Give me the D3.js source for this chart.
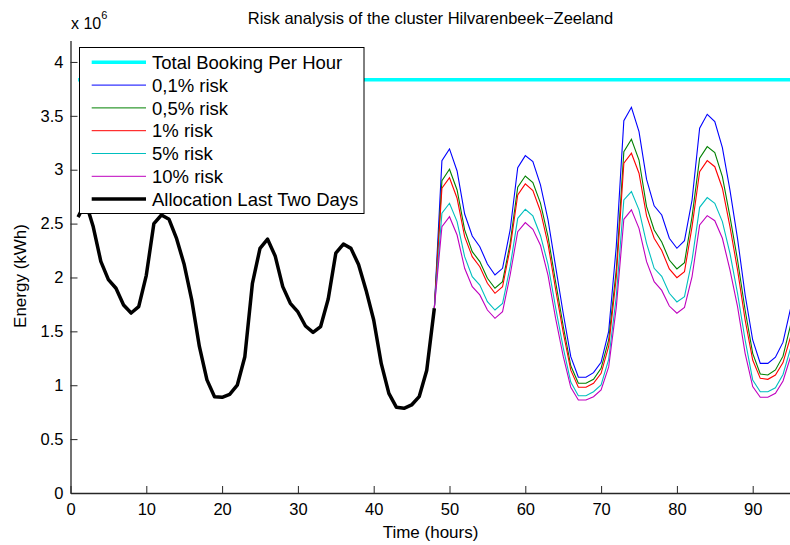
<!DOCTYPE html>
<html>
<head>
<meta charset="utf-8">
<script src="https://cdn.jsdelivr.net/npm/d3@7"></script>
<style>
  body { margin: 0; background: #fff; }
  svg { display: block; font-family: "Liberation Sans", Arial, sans-serif; }
  .axis path, .axis line { stroke: #262626; }
  .axis text { font-size: 16.5px; fill: #000; font-family: "Liberation Sans", Arial, sans-serif; }
</style>
</head>
<body>
<div id="chart"></div>
<script>
// values in units of 10^6 kWh
const bookingLevel = 3.836;

// hours 1..48
const allocation = [2.56, 2.70, 2.47, 2.15, 1.98, 1.90, 1.745, 1.67, 1.73, 2.02, 2.50, 2.58,
  2.54, 2.36, 2.12, 1.79, 1.36, 1.05, 0.894, 0.888, 0.916, 1.00, 1.265, 1.946,
  2.27, 2.355, 2.20, 1.915, 1.76, 1.68, 1.55, 1.49, 1.545, 1.80, 2.225, 2.31,
  2.27, 2.12, 1.88, 1.605, 1.20, 0.925, 0.795, 0.786, 0.817, 0.894, 1.14, 1.714];

// hours 48..95
const risk01 = [1.714, 3.084, 3.193, 2.988, 2.589, 2.385, 2.286, 2.125, 2.023, 2.085, 2.441, 3.019,
  3.131, 3.075, 2.86, 2.534, 2.10, 1.668, 1.265, 1.074, 1.074, 1.117, 1.213, 1.50,
  2.286, 3.455, 3.579, 3.353, 2.91, 2.665, 2.58, 2.364, 2.271, 2.342, 2.719, 3.385,
  3.514, 3.446, 3.205, 2.81, 2.36, 1.84, 1.42, 1.203, 1.203, 1.26, 1.40, 1.714];
const risk05 = [1.714, 2.899, 3.004, 2.812, 2.441, 2.24, 2.147, 1.992, 1.90, 1.961, 2.317, 2.837,
  2.942, 2.88, 2.69, 2.38, 1.96, 1.55, 1.18, 1.018, 1.018, 1.055, 1.157, 1.42,
  2.07, 3.168, 3.282, 3.09, 2.657, 2.441, 2.33, 2.162, 2.079, 2.138, 2.565, 3.106,
  3.214, 3.159, 2.936, 2.565, 2.162, 1.698, 1.296, 1.104, 1.095, 1.142, 1.27, 1.56];
const risk1 = [1.714, 2.828, 2.926, 2.735, 2.379, 2.193, 2.10, 1.946, 1.853, 1.915, 2.271, 2.766,
  2.868, 2.806, 2.615, 2.31, 1.89, 1.49, 1.14, 0.981, 0.981, 1.018, 1.111, 1.36,
  2.0, 3.06, 3.153, 2.967, 2.571, 2.364, 2.25, 2.079, 1.998, 2.054, 2.472, 2.982,
  3.084, 3.028, 2.828, 2.472, 2.07, 1.606, 1.234, 1.064, 1.055, 1.095, 1.21, 1.45];
const risk5 = [1.714, 2.596, 2.689, 2.518, 2.193, 2.008, 1.93, 1.776, 1.698, 1.76, 2.10, 2.549,
  2.633, 2.571, 2.39, 2.12, 1.72, 1.35, 1.03, 0.903, 0.903, 0.94, 1.002, 1.24,
  1.82, 2.72, 2.797, 2.627, 2.317, 2.085, 2.01, 1.853, 1.773, 1.822, 2.162, 2.651,
  2.741, 2.688, 2.518, 2.224, 1.853, 1.42, 1.049, 0.94, 0.94, 0.977, 1.10, 1.343];
const risk10 = [1.714, 2.472, 2.564, 2.394, 2.085, 1.915, 1.838, 1.698, 1.621, 1.683, 2.023, 2.425,
  2.509, 2.447, 2.30, 2.02, 1.62, 1.27, 0.98, 0.863, 0.863, 0.894, 0.956, 1.17,
  1.72, 2.54, 2.627, 2.456, 2.147, 1.961, 1.88, 1.735, 1.668, 1.723, 2.008, 2.487,
  2.574, 2.527, 2.364, 2.07, 1.729, 1.296, 0.987, 0.888, 0.888, 0.925, 1.04, 1.265];

const xTicks = [0, 10, 20, 30, 40, 50, 60, 70, 80, 90];
const yTicks = [0, 0.5, 1, 1.5, 2, 2.5, 3, 3.5, 4];

const legendNames = ['Total Booking Per Hour', '0,1% risk', '0,5% risk', '1% risk', '5% risk', '10% risk', 'Allocation Last Two Days'];
const legendColors = ['#00ffff', '#0000ff', '#008000', '#ff0000', '#00bfbf', '#bf00bf', '#000000'];
const legendWidths = [3.5, 1, 1, 1, 1, 1, 3.5];

const width = 790;
const height = 545;

const svg = d3.select('#chart')
  .append('svg')
  .attr('width', width)
  .attr('height', height);

const x = d3.scaleLinear().domain([0, 95]).range([70.5, 790.6]);
const y = d3.scaleLinear().domain([0, 4.2]).range([493, 40.4]);

const line = d3.line()
  .x(d => x(d[0]))
  .y(d => y(d[1]));

// risk curves, starting at hour 48
const riskSeries = [risk01, risk05, risk1, risk5, risk10];
riskSeries.forEach((s, i) => {
  svg.append('path')
    .attr('d', line(s.map((v, j) => [48 + j, v])))
    .attr('fill', 'none')
    .attr('stroke', legendColors[i + 1])
    .attr('stroke-width', 1.1);
});

// allocation of the last two days
svg.append('path')
  .attr('d', line(allocation.map((v, j) => [1 + j, v])))
  .attr('fill', 'none')
  .attr('stroke', '#000')
  .attr('stroke-width', 3.5)
  .attr('stroke-linejoin', 'round');

// total booking
svg.append('path')
  .attr('d', line([[1, bookingLevel], [95, bookingLevel]]))
  .attr('stroke', '#00ffff')
  .attr('stroke-width', 3.5);

// axes
svg.append('g')
  .attr('class', 'axis')
  .attr('transform', `translate(0, ${y(0)})`)
  .call(d3.axisBottom(x).tickValues(xTicks).tickSizeInner(-7).tickSizeOuter(0).tickPadding(10));

svg.append('g')
  .attr('class', 'axis')
  .attr('transform', `translate(${x(0)}, 0)`)
  .call(d3.axisLeft(y).tickValues(yTicks).tickFormat(d3.format('~g'))
    .tickSizeInner(-7).tickSizeOuter(0).tickPadding(7));

svg.selectAll('.axis .domain').attr('stroke-width', 1.3);

// labels
svg.append('text')
  .attr('x', 430.5)
  .attr('y', 24)
  .attr('text-anchor', 'middle')
  .style('font-size', '16.5px')
  .text('Risk analysis of the cluster Hilvarenbeek\u2212Zeeland');

svg.append('text')
  .attr('x', 430.5)
  .attr('y', 538)
  .attr('text-anchor', 'middle')
  .style('font-size', '17px')
  .text('Time (hours)');

svg.append('text')
  .attr('transform', 'translate(26, 276) rotate(-90)')
  .attr('text-anchor', 'middle')
  .style('font-size', '17px')
  .text('Energy (kWh)');

const exp = svg.append('text')
  .attr('x', 71)
  .attr('y', 29)
  .style('font-size', '16px');
exp.append('tspan').text('x 10');
exp.append('tspan').attr('dy', -10).style('font-size', '11px').text('6');

// legend
const legend = svg.append('g');
legend.append('rect')
  .attr('x', 79.5)
  .attr('y', 47.5)
  .attr('width', 284.5)
  .attr('height', 166)
  .attr('fill', '#fff')
  .attr('stroke', '#000')
  .attr('stroke-width', 1);

legendNames.forEach((name, i) => {
  const ly = 62.3 + i * 22.8;
  legend.append('line')
    .attr('x1', 91.7).attr('x2', 146)
    .attr('y1', ly).attr('y2', ly)
    .attr('stroke', legendColors[i])
    .attr('stroke-width', legendWidths[i]);
  legend.append('text')
    .attr('x', 152)
    .attr('y', ly)
    .attr('dy', '0.36em')
    .style('font-size', '18.5px')
    .text(name);
});
</script>
</body>
</html>
